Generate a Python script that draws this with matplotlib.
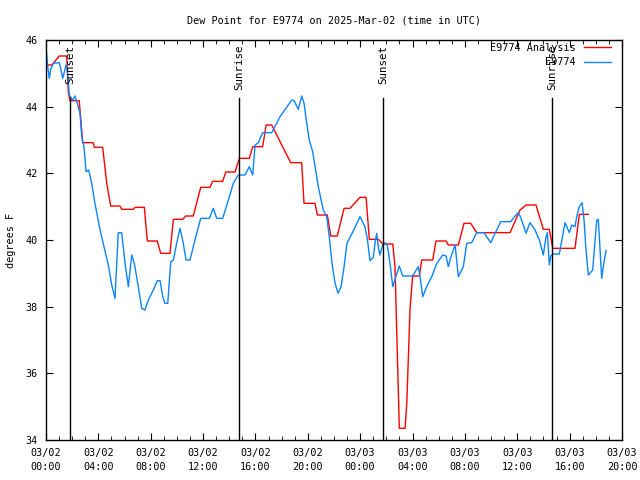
import matplotlib
matplotlib.use("Agg")
import matplotlib.pyplot as plt
import numpy as np

title = "Dew Point for E9774 on 2025-Mar-02 (time in UTC)"
ylabel = "degrees F"

# hours since 2025-03-02 00:00 UTC
analysis_h = [0.05, 0.44, 1.02, 1.58, 1.70, 1.83, 2.54, 2.80, 3.61, 3.69, 4.33, 4.64, 4.94, 5.65, 5.78,
              6.67, 6.80, 7.51, 7.74, 8.50, 8.76, 9.47, 9.73, 10.44, 10.67, 11.25, 11.82, 12.53, 12.73,
              13.50, 13.73, 14.44, 14.77, 15.53, 15.79, 16.55, 16.81, 17.24, 18.69, 19.53, 19.71, 20.55,
              20.73, 21.49, 21.75, 22.25, 22.77, 23.22, 23.99, 24.45, 24.70, 25.39, 25.72, 26.49, 26.66,
              26.99, 27.43, 27.56, 27.81, 28.01, 28.52, 28.70, 29.54, 29.79, 30.56, 30.73, 31.50, 31.93,
              32.44, 32.90, 35.45, 36.21, 36.67, 37.43, 37.99, 38.45, 38.71, 40.41, 40.74, 41.43]
analysis_v = [45.25, 45.25, 45.52, 45.52, 44.45, 44.18, 44.18, 42.92, 42.92, 42.78, 42.78, 41.7, 41.02,
              41.02, 40.92, 40.92, 40.98, 40.98, 39.97, 39.97, 39.6, 39.6, 40.62, 40.62, 40.72, 40.72,
              41.58, 41.58, 41.76, 41.76, 42.04, 42.04, 42.45, 42.45, 42.8, 42.8, 43.45, 43.45, 42.32,
              42.32, 41.1, 41.1, 40.75, 40.75, 40.12, 40.12, 40.95, 40.95, 41.28, 41.28, 40.02, 40.02,
              39.88, 39.88, 39.2, 34.35, 34.35, 35.1, 37.95, 38.92, 38.92, 39.4, 39.4, 39.97, 39.97,
              39.85, 39.85, 40.5, 40.5, 40.22, 40.22, 40.9, 41.05, 41.05, 40.32, 40.32, 39.75, 39.75,
              40.77, 40.77]

obs_h = [0.05, 0.10, 0.25, 0.36, 0.56, 1.02, 1.28, 1.53, 1.63, 1.78, 2.04, 2.22, 2.39, 2.60, 2.73, 2.90,
         3.06, 3.26, 3.49, 3.74, 4.13, 4.43, 4.76, 5.02, 5.27, 5.40, 5.52, 5.78, 6.04, 6.29, 6.55, 6.75,
         7.05, 7.31, 7.56, 7.82, 8.20, 8.50, 8.71, 8.92, 9.09, 9.30, 9.53, 9.73, 9.98, 10.24, 10.44,
         10.70, 11.00, 11.38, 11.82, 12.48, 12.78, 13.04, 13.50, 13.93, 14.31, 14.69, 15.20, 15.53,
         15.79, 15.97, 16.22, 16.55, 17.24, 17.88, 18.77, 18.95, 19.27, 19.53, 19.71, 19.92, 20.11,
         20.37, 20.80, 21.18, 21.44, 21.64, 21.85, 22.08, 22.31, 22.54, 22.77, 22.99, 23.38, 23.99,
         24.36, 24.54, 24.75, 25.00, 25.13, 25.26, 25.38, 25.51, 25.72, 25.90, 26.07, 26.28, 26.49,
         26.74, 26.99, 27.25, 28.01, 28.44, 28.57, 28.78, 29.08, 29.47, 29.85, 30.31, 30.56, 30.73,
         30.92, 31.25, 31.50, 31.88, 32.14, 32.52, 32.90, 33.46, 33.97, 34.74, 35.50, 35.83, 36.08,
         36.26, 36.67, 36.97, 37.36, 37.69, 37.99, 38.20, 38.30, 38.45, 38.56, 38.75, 39.21, 39.65,
         39.98, 40.16, 40.41, 40.54, 40.74, 40.95, 41.10, 41.25, 41.43, 41.76, 42.07, 42.19, 42.45,
         42.57, 42.78]
obs_v = [45.6, 45.3, 44.85, 45.12, 45.3, 45.32, 44.85, 45.25, 45.12, 44.35, 44.2, 44.32, 44.1, 43.8,
         43.1, 42.8, 42.05, 42.1, 41.7, 41.1, 40.3, 39.8, 39.25, 38.65, 38.25, 39.25, 40.22, 40.22,
         39.3, 38.6, 39.55, 39.3, 38.6, 37.95, 37.9, 38.2, 38.5, 38.78, 38.78, 38.3, 38.1, 38.1,
         39.35, 39.4, 39.9, 40.35, 40.0, 39.4, 39.4, 40.0, 40.65, 40.65, 40.95, 40.65, 40.65, 41.2,
         41.7, 41.95, 41.95, 42.2, 41.95, 42.85, 42.92, 43.22, 43.22, 43.7, 44.2, 44.18, 43.92, 44.32,
         44.1, 43.5, 43.0, 42.65, 41.6, 40.9, 40.7, 40.1, 39.3, 38.7, 38.4, 38.6, 39.2, 39.9, 40.2,
         40.7, 40.4, 40.05, 39.38, 39.48, 39.9, 40.2, 39.8, 39.55, 39.85, 39.92, 39.85, 39.3, 38.6,
         38.92, 39.22, 38.92, 38.92, 39.2, 38.9, 38.3, 38.6, 38.9, 39.3, 39.55, 39.52, 39.2, 39.48,
         39.85, 38.9, 39.2, 39.9, 39.92, 40.22, 40.22, 39.92, 40.55, 40.55, 40.72, 40.82, 40.68, 40.2,
         40.52, 40.3, 40.0, 39.55, 40.1, 40.22, 39.25, 39.52, 39.58, 39.58, 40.52, 40.22, 40.45, 40.4,
         40.7, 41.0, 41.12, 40.6, 39.7, 38.95, 39.1, 40.6, 40.62, 38.85, 39.2, 39.68]

sun_h = [1.83, 14.74, 25.74, 38.66]
sun_labels = ["Sunset", "Sunrise", "Sunset", "Sunrise"]

xtick_h = [0, 4, 8, 12, 16, 20, 24, 28, 32, 36, 40, 44]
xtick_labels = ["03/02\n00:00", "03/02\n04:00", "03/02\n08:00", "03/02\n12:00", "03/02\n16:00",
                "03/02\n20:00", "03/03\n00:00", "03/03\n04:00", "03/03\n08:00", "03/03\n12:00",
                "03/03\n16:00", "03/03\n20:00"]
ytick_v = [34, 36, 38, 40, 42, 44, 46]

plt.rcParams['font.family'] = ['DejaVu Sans Mono']
FS = 7.3
fig = plt.figure(figsize=(6.4, 4.8), dpi=100)
ax = fig.add_axes([46/640, 40/480, 576/640, 400/480])

red = '#ff0000'
blue = '#0a84ff'
ax.plot(analysis_h, analysis_v, color=red, lw=1.0, label="E9774 Analysis")
ax.plot(obs_h, obs_v, color=blue, lw=1.0, label="E9774")

for h, lab in zip(sun_h, sun_labels):
    ax.plot([h, h], [34, 44.25], color='black', lw=1.0)
    ax.text(h + 0.05, 45.85, lab, rotation=90, ha='center', va='top', fontsize=FS + 0.5)

ax.set_xlim(0, 44)
ax.set_ylim(34, 46)
ax.set_xticks(xtick_h)
ax.set_xticklabels(xtick_labels, fontsize=FS, linespacing=1.45)
ax.set_xticks(np.arange(0, 45, 1), minor=True)
ax.set_yticks(ytick_v)
ax.set_yticklabels([str(v) for v in ytick_v], fontsize=FS)
ax.tick_params(which='both', direction='in', top=True, right=True)
ax.tick_params(which='major', length=5, pad=6)
ax.tick_params(which='minor', length=3)
for s in ax.spines.values():
    s.set_linewidth(1.0)

ax.set_title(title, fontsize=FS, pad=12)
ax.set_ylabel(ylabel, fontsize=FS, labelpad=7)

leg = ax.legend(loc='upper right', bbox_to_anchor=(0.986, 1.0), frameon=False, markerfirst=False,
                fontsize=FS, handlelength=2.7, handletextpad=0.8, borderaxespad=0.2,
                borderpad=0.1, labelspacing=0.4)

fig.savefig("out.png", dpi=100)
